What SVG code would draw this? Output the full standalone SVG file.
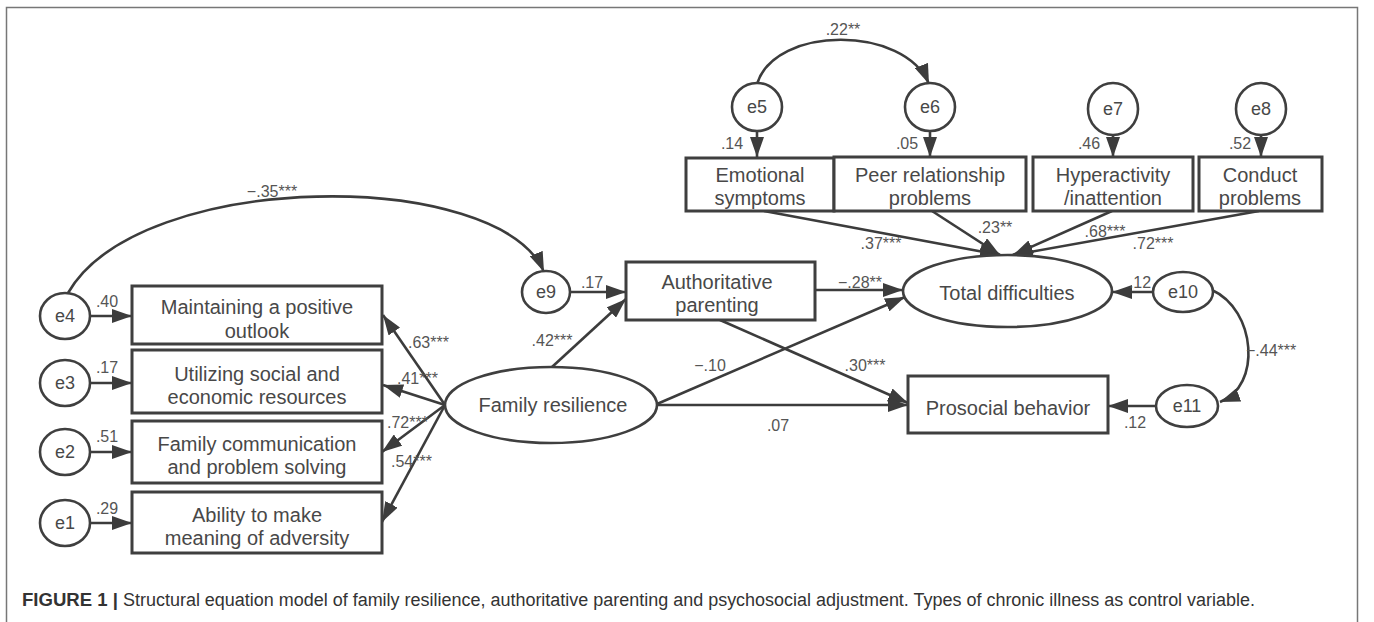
<svg xmlns="http://www.w3.org/2000/svg" width="1374" height="622" viewBox="0 0 1374 622">
<style>
  .box{fill:#fff;stroke:#3f3f3f;stroke-width:3}
  .ell{fill:#fff;stroke:#3f3f3f;stroke-width:2.6}
  .ln{fill:none;stroke:#3c3c3c;stroke-width:2.6}
  .t{font-family:"Liberation Sans",Arial,sans-serif;font-size:20px;fill:#484848;text-anchor:middle}
  .e{font-family:"Liberation Sans",Arial,sans-serif;font-size:18px;fill:#484848;text-anchor:middle}
  .c{font-family:"Liberation Sans",Arial,sans-serif;font-size:16px;fill:#555;text-anchor:middle}
  .cs{font-family:"Liberation Sans",Arial,sans-serif;font-size:16px;fill:#555;text-anchor:start}
  .cap{font-family:"Liberation Sans",Arial,sans-serif;font-size:18px;fill:#333}
</style>
<defs>
  <marker id="ah" viewBox="0 0 20 14" refX="20" refY="7" markerWidth="20" markerHeight="14" markerUnits="userSpaceOnUse" orient="auto">
    <path d="M0,0 L20,7 L0,14 z" fill="#3c3c3c"/>
  </marker>
</defs>
<rect x="0" y="0" width="1374" height="622" fill="#fff"/>
<rect x="6.5" y="7.5" width="1351" height="660" fill="none" stroke="#777" stroke-width="1.5"/>

<g id="connectors">
  <!-- curved covariances -->
  <path class="ln" d="M68 293 C140 168, 500 168, 544 272" marker-end="url(#ah)"/>
  <path class="ln" d="M757 84 C775 25, 905 25, 929 84" marker-end="url(#ah)"/>
  <path class="ln" d="M1212 290 C1256 310, 1262 386, 1220 402" marker-end="url(#ah)"/>
  <!-- errors to indicators -->
  <line class="ln" x1="90" y1="316" x2="132" y2="316" marker-end="url(#ah)"/>
  <line class="ln" x1="90" y1="383" x2="132" y2="383" marker-end="url(#ah)"/>
  <line class="ln" x1="90" y1="452" x2="132" y2="452" marker-end="url(#ah)"/>
  <line class="ln" x1="90" y1="523" x2="132" y2="523" marker-end="url(#ah)"/>
  <!-- family resilience to indicators -->
  <line class="ln" x1="445" y1="405" x2="383" y2="315" marker-end="url(#ah)"/>
  <line class="ln" x1="445" y1="405" x2="383" y2="385" marker-end="url(#ah)"/>
  <line class="ln" x1="445" y1="405" x2="382" y2="452" marker-end="url(#ah)"/>
  <line class="ln" x1="445" y1="405" x2="382" y2="522" marker-end="url(#ah)"/>
  <!-- structural -->
  <line class="ln" x1="570" y1="292" x2="626" y2="292" marker-end="url(#ah)"/>
  <line class="ln" x1="552" y1="367" x2="626" y2="299" marker-end="url(#ah)"/>
  <line class="ln" x1="815" y1="290" x2="903" y2="290" marker-end="url(#ah)"/>
  <line class="ln" x1="657" y1="404" x2="905" y2="297" marker-end="url(#ah)"/>
  <line class="ln" x1="720" y1="320" x2="908" y2="403" marker-end="url(#ah)"/>
  <line class="ln" x1="657" y1="405" x2="908" y2="405" marker-end="url(#ah)"/>
  <line class="ln" x1="1153" y1="292" x2="1112" y2="292" marker-end="url(#ah)"/>
  <line class="ln" x1="1156" y1="406" x2="1108" y2="406" marker-end="url(#ah)"/>
  <!-- top errors -->
  <line class="ln" x1="757" y1="131" x2="757" y2="157" marker-end="url(#ah)"/>
  <line class="ln" x1="930" y1="131" x2="930" y2="157" marker-end="url(#ah)"/>
  <line class="ln" x1="1113" y1="135" x2="1113" y2="157" marker-end="url(#ah)"/>
  <line class="ln" x1="1261" y1="135" x2="1261" y2="157" marker-end="url(#ah)"/>
  <!-- SDQ subscales to total difficulties -->
  <line class="ln" x1="764" y1="211" x2="1000" y2="255" marker-end="url(#ah)"/>
  <line class="ln" x1="932" y1="211" x2="1000" y2="255" marker-end="url(#ah)"/>
  <line class="ln" x1="1112" y1="211" x2="1013" y2="255" marker-end="url(#ah)"/>
  <line class="ln" x1="1259" y1="211" x2="1013" y2="255" marker-end="url(#ah)"/>
  <!-- coefficient labels -->
  <text class="c" x="272" y="197">−.35***</text>
  <text class="c" x="107" y="307">.40</text>
  <text class="c" x="107" y="373">.17</text>
  <text class="c" x="107" y="442">.51</text>
  <text class="c" x="107" y="514">.29</text>
  <text class="cs" x="408" y="348">.63***</text>
  <text class="cs" x="397" y="384">.41***</text>
  <text class="cs" x="387" y="428">.72***</text>
  <text class="cs" x="391" y="467">.54***</text>
  <text class="c" x="552" y="346">.42***</text>
  <text class="c" x="592" y="288">.17</text>
  <text class="c" x="860" y="288">−.28**</text>
  <text class="c" x="710" y="371">−.10</text>
  <text class="c" x="865" y="371">.30***</text>
  <text class="c" x="778" y="431">.07</text>
  <text class="c" x="1140" y="288">.12</text>
  <text class="c" x="1135" y="428">.12</text>
  <text class="cs" x="1246" y="356">−.44***</text>
  <text class="c" x="843" y="35">.22**</text>
  <text class="c" x="732" y="149">.14</text>
  <text class="c" x="907" y="149">.05</text>
  <text class="c" x="1089" y="149">.46</text>
  <text class="c" x="1240" y="149">.52</text>
  <text class="c" x="881" y="249">.37***</text>
  <text class="c" x="995" y="233">.23**</text>
  <text class="c" x="1105" y="237">.68***</text>
  <text class="c" x="1153" y="249">.72***</text>
</g>

<g id="e4"><ellipse class="ell" cx="65" cy="316" rx="25" ry="23"/><text class="e" x="65" y="322">e4</text></g>
<g id="e3"><ellipse class="ell" cx="65" cy="383" rx="25" ry="23"/><text class="e" x="65" y="389">e3</text></g>
<g id="e2"><ellipse class="ell" cx="65" cy="452" rx="25" ry="23"/><text class="e" x="65" y="458">e2</text></g>
<g id="e1"><ellipse class="ell" cx="65" cy="523" rx="25" ry="23"/><text class="e" x="65" y="529">e1</text></g>

<g id="positive-outlook"><rect class="box" x="132" y="286" width="250" height="58"/><text class="t" x="257" y="314">Maintaining a positive</text><text class="t" x="257" y="338">outlook</text></g>
<g id="resources"><rect class="box" x="132" y="350" width="250" height="63"/><text class="t" x="257" y="381">Utilizing social and</text><text class="t" x="257" y="404">economic resources</text></g>
<g id="communication"><rect class="box" x="132" y="421" width="250" height="62"/><text class="t" x="257" y="451">Family communication</text><text class="t" x="257" y="474">and problem solving</text></g>
<g id="meaning"><rect class="box" x="132" y="492" width="250" height="61"/><text class="t" x="257" y="522">Ability to make</text><text class="t" x="257" y="545">meaning of adversity</text></g>

<g id="family-resilience"><ellipse class="ell" cx="551" cy="405" rx="106" ry="38"/><text class="t" x="553" y="412">Family resilience</text></g>
<g id="e9"><ellipse class="ell" cx="546" cy="292" rx="24" ry="21"/><text class="e" x="546" y="298">e9</text></g>
<g id="authoritative"><rect class="box" x="626" y="262" width="189" height="58"/><text class="t" x="717" y="289">Authoritative</text><text class="t" x="717" y="312">parenting</text></g>

<g id="total-difficulties"><ellipse class="ell" cx="1007.5" cy="291" rx="104.5" ry="36"/><text class="t" x="1007" y="300">Total difficulties</text></g>
<g id="prosocial"><rect class="box" x="908" y="376" width="200" height="57"/><text class="t" x="1008" y="415">Prosocial behavior</text></g>
<g id="e10"><ellipse class="ell" cx="1183" cy="292" rx="30" ry="20"/><text class="e" x="1183" y="298">e10</text></g>
<g id="e11"><ellipse class="ell" cx="1187" cy="406" rx="31" ry="21"/><text class="e" x="1187" y="412">e11</text></g>

<g id="e5"><ellipse class="ell" cx="757" cy="107" rx="25" ry="24"/><text class="e" x="757" y="113">e5</text></g>
<g id="e6"><ellipse class="ell" cx="930" cy="107" rx="25" ry="24"/><text class="e" x="930" y="113">e6</text></g>
<g id="e7"><ellipse class="ell" cx="1113" cy="109" rx="25" ry="26"/><text class="e" x="1113" y="115">e7</text></g>
<g id="e8"><ellipse class="ell" cx="1261" cy="109" rx="25" ry="26"/><text class="e" x="1261" y="115">e8</text></g>

<g id="emotional"><rect class="box" x="686" y="158" width="148" height="53"/><text class="t" x="760" y="182">Emotional</text><text class="t" x="760" y="205">symptoms</text></g>
<g id="peer"><rect class="box" x="834" y="157" width="192" height="54"/><text class="t" x="930" y="182">Peer relationship</text><text class="t" x="930" y="205">problems</text></g>
<g id="hyperactivity"><rect class="box" x="1033" y="157" width="160" height="54"/><text class="t" x="1113" y="182">Hyperactivity</text><text class="t" x="1113" y="205">/inattention</text></g>
<g id="conduct"><rect class="box" x="1199" y="157" width="123" height="54"/><text class="t" x="1260" y="182">Conduct</text><text class="t" x="1260" y="205">problems</text></g>

<g id="caption">
  <text class="cap" x="22" y="606" font-weight="bold" textLength="96" lengthAdjust="spacingAndGlyphs">FIGURE 1 |</text>
  <text class="cap" x="123" y="606" textLength="1132" lengthAdjust="spacingAndGlyphs">Structural equation model of family resilience, authoritative parenting and psychosocial adjustment. Types of chronic illness as control variable.</text>
</g>
</svg>
